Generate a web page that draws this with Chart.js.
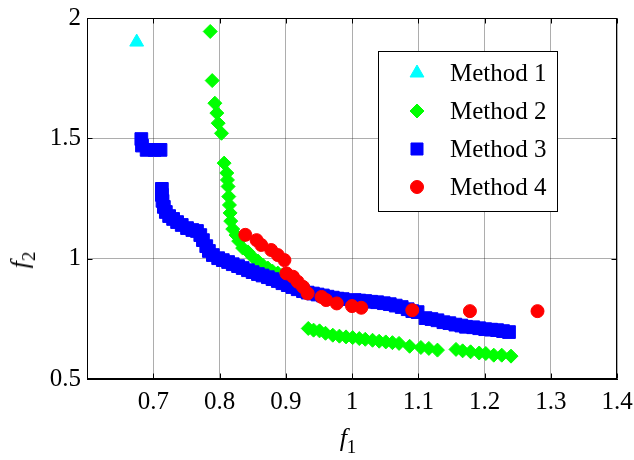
<!DOCTYPE html>
<html>
<head>
<meta charset="utf-8">
<script src="https://cdn.jsdelivr.net/npm/chart.js@4/dist/chart.umd.min.js"></script>
<style>
	html, body { margin: 0; padding: 0; background: #fff; }
	#wrap { position: relative; width: 634px; height: 460px; }
	.axis-title {
		position: absolute;
		font-family: "Liberation Serif", serif;
		font-size: 26px;
		line-height: 1;
		white-space: nowrap;
		color: #000;
	}
	.axis-title sub { font-size: 19px; vertical-align: -7px; line-height: 0; }
	#titleX { left: 348px; top: 438px; transform: translate(-50%, -50%); }
	#titleY { left: 20px; top: 260px; transform: translate(-50%, -50%) rotate(-90deg); }
</style>
</head>
<body>
<div id="wrap">
	<canvas id="chart" width="634" height="460"></canvas>
	<div class="axis-title" id="titleX"><i>f</i><sub>1</sub></div>
	<div class="axis-title" id="titleY"><i>f</i><sub>2</sub></div>
</div>
<script>
const methodNames = ['Method 1', 'Method 2', 'Method 3', 'Method 4'];
const xTicks = [0.7, 0.8, 0.9, 1.0, 1.1, 1.2, 1.3, 1.4];
const yTicks = [0.5, 1.0, 1.5, 2.0];

const method1X = [0.675];
const method1Y = [1.90];

const method2X = [0.786, 0.789, 0.793, 0.796, 0.798, 0.803,
	0.807, 0.811, 0.812, 0.813, 0.814, 0.815, 0.816, 0.817, 0.820, 0.825, 0.829,
	0.835, 0.843, 0.850, 0.858, 0.865, 0.873, 0.880, 0.888, 0.895,
	0.934, 0.942, 0.951, 0.960, 0.971, 0.981, 0.991, 1.001, 1.011, 1.020, 1.031,
	1.041, 1.051, 1.061, 1.071, 1.087, 1.104, 1.116, 1.129, 1.157, 1.167, 1.179,
	1.192, 1.202, 1.214, 1.226, 1.240];
const method2Y = [1.944, 1.740, 1.646, 1.605, 1.563, 1.521,
	1.397, 1.356, 1.327, 1.300, 1.258, 1.223, 1.190, 1.156, 1.123, 1.098, 1.073,
	1.044, 1.028, 1.007, 0.990, 0.974, 0.961, 0.948, 0.940, 0.932,
	0.710, 0.703, 0.700, 0.690, 0.682, 0.678, 0.675, 0.672, 0.668, 0.665, 0.661,
	0.657, 0.654, 0.651, 0.648, 0.636, 0.631, 0.627, 0.620, 0.623, 0.617, 0.613,
	0.608, 0.606, 0.599, 0.599, 0.595];

const method3X = [0.682, 0.683, 0.690, 0.702, 0.711,
	0.713, 0.713, 0.714, 0.716, 0.719, 0.724, 0.730, 0.736, 0.743, 0.751, 0.759,
	0.766, 0.771, 0.775, 0.780, 0.784, 0.790, 0.798, 0.805, 0.813, 0.820, 0.828,
	0.835, 0.843, 0.850, 0.858, 0.865, 0.873, 0.880, 0.888, 0.895, 0.903, 0.910,
	0.918, 0.926, 0.933, 0.941, 0.948, 0.956, 0.963, 0.971, 0.978, 0.986,
	1.004, 1.011, 1.020, 1.029, 1.038, 1.048, 1.057, 1.066, 1.075, 1.084, 1.091,
	1.099, 1.111, 1.120, 1.129, 1.138, 1.147, 1.156, 1.165, 1.172,
	1.183, 1.192, 1.201, 1.210, 1.219, 1.228, 1.237];
const method3Y = [1.497, 1.470, 1.452, 1.452, 1.452,
	1.290, 1.265, 1.240, 1.215, 1.194, 1.177, 1.165, 1.152, 1.140, 1.127, 1.119,
	1.115, 1.098, 1.077, 1.052, 1.032, 1.015, 1.002, 0.994, 0.986, 0.977, 0.969,
	0.961, 0.952, 0.944, 0.936, 0.930, 0.923, 0.915, 0.907, 0.898, 0.890, 0.882,
	0.873, 0.865, 0.859, 0.855, 0.851, 0.847, 0.842, 0.838, 0.834, 0.832,
	0.828, 0.826, 0.824, 0.821, 0.819, 0.815, 0.811, 0.805, 0.799, 0.790, 0.782,
	0.778, 0.753, 0.749, 0.744, 0.736, 0.732, 0.726, 0.722, 0.717,
	0.715, 0.711, 0.707, 0.705, 0.703, 0.699, 0.695];

const method4X = [0.839, 0.856, 0.863, 0.878, 0.888, 0.898, 0.901, 0.911, 0.918,
	0.926, 0.933, 0.954, 0.961, 0.977, 1.000, 1.014, 1.091, 1.178, 1.280];
const method4Y = [1.099, 1.077, 1.057, 1.036, 1.015, 0.994, 0.939, 0.925, 0.904,
	0.883, 0.856, 0.841, 0.828, 0.814, 0.803, 0.796, 0.786, 0.782, 0.782];

const seriesX = [method1X, method2X, method3X, method4X];
const seriesY = [method1Y, method2Y, method3Y, method4Y];

// marker look for each method (matlab style)
const markers = [
	{ style: 'triangle', color: '#00ffff', radius: 8 },
	{ style: 'rectRot', color: '#00ff00', radius: 7 },
	{ style: 'rect', color: '#0000ff', radius: 9 },
	{ style: 'circle', color: '#ff0000', radius: 6.5 }
];

const fontFamily = '"Liberation Serif", "Times New Roman", serif';
const gridColor = 'rgba(0,0,0,0.32)';

const toPoints = (xs, ys) => xs.map((x, i) => ({ x: x, y: ys[i] }));

const datasets = methodNames.map((name, i) => ({
	label: name,
	data: toPoints(seriesX[i], seriesY[i]),
	pointStyle: markers[i].style,
	pointRadius: markers[i].radius,
	pointHoverRadius: markers[i].radius,
	pointBackgroundColor: markers[i].color,
	pointBorderColor: markers[i].color,
	pointBorderWidth: 1,
	showLine: false,
	order: methodNames.length - i
}));

// black box round the axes with small inward ticks
const axesBox = {
	id: 'axesBox',
	afterDraw(chart) {
		const ctx = chart.ctx;
		const a = chart.chartArea;
		const l = Math.round(a.left) + 0.5, r = Math.round(a.right) - 0.5;
		const t = Math.round(a.top) + 0.5, b = Math.round(a.bottom) - 0.5;
		ctx.save();
		ctx.strokeStyle = '#000';
		ctx.lineWidth = 1;
		ctx.strokeRect(l, t, r - l, b - t);
		ctx.beginPath();
		xTicks.forEach((v) => {
			const x = Math.round(chart.scales.x.getPixelForValue(v)) + 0.5;
			ctx.moveTo(x, b); ctx.lineTo(x, b - 5);
			ctx.moveTo(x, t); ctx.lineTo(x, t + 5);
		});
		yTicks.forEach((v) => {
			const y = Math.round(chart.scales.y.getPixelForValue(v)) + 0.5;
			ctx.moveTo(l, y); ctx.lineTo(l + 5, y);
			ctx.moveTo(r, y); ctx.lineTo(r - 5, y);
		});
		ctx.stroke();
		ctx.restore();
	}
};

// legend drawn inside the plot, like the matlab one
const legendBox = {
	id: 'legendBox',
	afterDraw(chart) {
		const ctx = chart.ctx;
		ctx.save();
		ctx.fillStyle = '#fff';
		ctx.strokeStyle = '#000';
		ctx.lineWidth = 1;
		ctx.fillRect(378.5, 51.5, 179, 160);
		ctx.strokeRect(378.5, 51.5, 179, 160);
		chart.data.datasets.forEach((ds, i) => {
			const y = 73 + i * 38;
			ctx.fillStyle = ds.pointBackgroundColor;
			ctx.strokeStyle = ds.pointBorderColor;
			ctx.lineWidth = 1;
			Chart.helpers.drawPoint(ctx, {
				pointStyle: ds.pointStyle,
				radius: ds.pointStyle === 'rect' ? 8.5 : ds.pointRadius,
				rotation: 0,
				borderWidth: 1
			}, 417, y);
			ctx.fillStyle = '#000';
			ctx.font = '25px ' + fontFamily;
			ctx.textBaseline = 'middle';
			ctx.textAlign = 'left';
			ctx.fillText(ds.label, 450, y + 1);
		});
		ctx.restore();
	}
};

const tickFont = { family: fontFamily, size: 25 };
const fmt = (v) => String(+Number(v).toFixed(1));

new Chart(document.getElementById('chart'), {
	type: 'scatter',
	data: { datasets: datasets },
	options: {
		responsive: false,
		animation: false,
		devicePixelRatio: 1,
		layout: { padding: { left: 0, top: 18, right: 17, bottom: 0 } },
		plugins: {
			legend: { display: false },
			tooltip: { enabled: false }
		},
		scales: {
			x: {
				type: 'linear',
				min: 0.6,
				max: 1.4,
				afterBuildTicks: (scale) => { scale.ticks = xTicks.map((v) => ({ value: v })); },
				afterFit: (scale) => {
					scale.height = 81;
					scale.paddingLeft = 0;
					scale.paddingRight = 0;
				},
				grid: { color: gridColor, drawTicks: false },
				border: { color: '#000', width: 1 },
				ticks: { color: '#000', font: tickFont, padding: 8, maxRotation: 0, autoSkip: false, callback: fmt }
			},
			y: {
				type: 'linear',
				min: 0.5,
				max: 2,
				afterBuildTicks: (scale) => { scale.ticks = yTicks.map((v) => ({ value: v })); },
				afterFit: (scale) => {
					scale.width = 87;
					scale.paddingTop = 0;
					scale.paddingBottom = 0;
				},
				grid: { color: gridColor, drawTicks: false },
				border: { color: '#000', width: 1 },
				ticks: { color: '#000', font: tickFont, padding: 6, autoSkip: false, callback: fmt }
			}
		}
	},
	plugins: [axesBox, legendBox]
});
</script>
</body>
</html>
